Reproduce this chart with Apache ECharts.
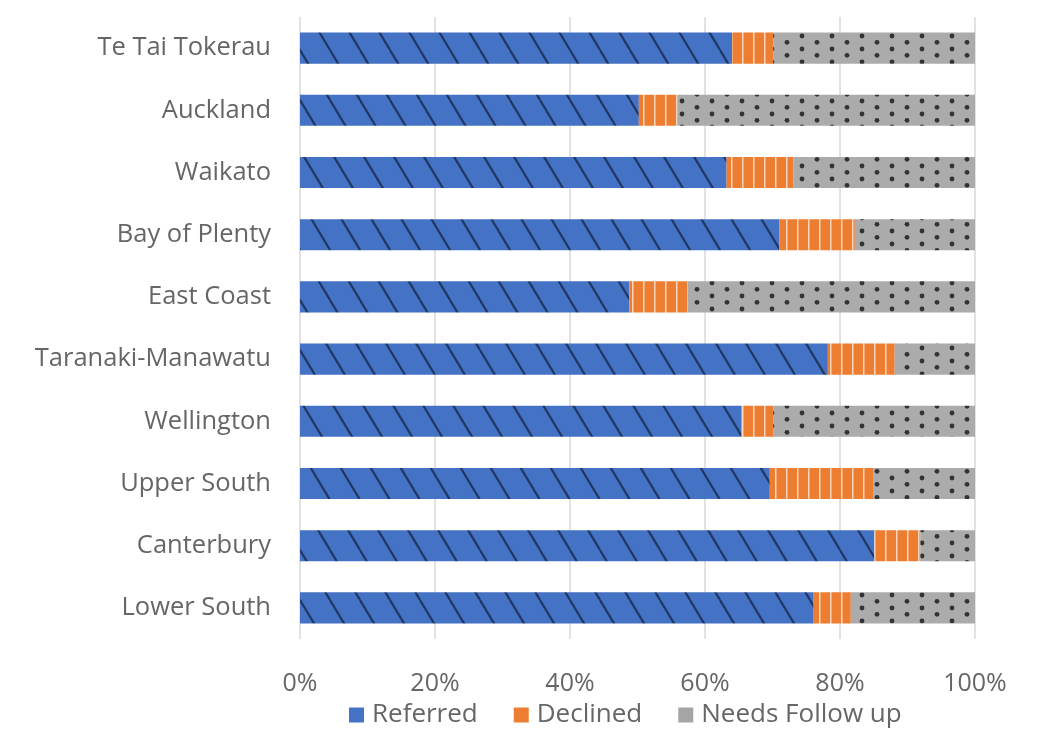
<!DOCTYPE html>
<html>
<head>
<meta charset="utf-8">
<script src="https://cdn.jsdelivr.net/npm/echarts@6/dist/echarts.min.js"></script>
<style>
  html, body { margin: 0; padding: 0; background: #fff; }
  #chart { width: 1037px; height: 729px; }
</style>
</head>
<body>
<div id="chart"></div>
<script>
// Regions, top to bottom
const regions = [
  'Te Tai Tokerau', 'Auckland', 'Waikato', 'Bay of Plenty', 'East Coast',
  'Taranaki-Manawatu', 'Wellington', 'Upper South', 'Canterbury', 'Lower South'
];
// Share of cases per outcome (%)
const referred      = [64.0, 50.2, 63.2, 71.0, 48.8, 78.2, 65.4, 69.6, 85.1, 76.1];
const declined      = [ 6.1,  5.7,  9.9, 11.2,  8.6,  9.9,  4.7, 15.3,  6.8,  5.5];
const needsFollowUp = [29.9, 44.1, 26.9, 17.8, 42.6, 11.9, 29.9, 15.1,  8.1, 18.4];
const seriesNames = ['Referred', 'Declined', 'Needs Follow up'];
const xTicks = [0, 20, 40, 60, 80, 100];

const FONT = '"Open Sans", sans-serif';
const TEXT = '#666666';

// Fill patterns drawn on small tiles
function tile(w, h, draw) {
  const c = document.createElement('canvas');
  c.width = w; c.height = h;
  draw(c.getContext('2d'), w, h);
  return { image: c, repeat: 'repeat' };
}
const bluePattern = tile(30, 50, (g, w, h) => {
  g.fillStyle = '#4472C4'; g.fillRect(0, 0, w, h);
  g.strokeStyle = '#1F3864'; g.lineWidth = 2.2;
  for (const x0 of [-w, 0, w]) {
    g.beginPath(); g.moveTo(x0, 0); g.lineTo(x0 + w, h); g.stroke();
  }
});
const orangePattern = tile(11, 10, (g, w, h) => {
  g.fillStyle = '#ED7D31'; g.fillRect(0, 0, w, h);
  g.fillStyle = '#FAD6BE'; g.fillRect(5, 0, 1.5, h);
});
const grayPattern = tile(30, 13.4, (g, w, h) => {
  g.fillStyle = '#ABABAB'; g.fillRect(0, 0, w, h);
  g.fillStyle = '#333333';
  for (const [x, y] of [[7, 3.3], [22, 10]]) {
    g.beginPath(); g.arc(x, y, 2.4, 0, Math.PI * 2); g.fill();
  }
});

const fills = [bluePattern, orangePattern, grayPattern];
const solids = ['#4472C4', '#ED7D31', '#A5A5A5'];
const values = [referred, declined, needsFollowUp];

const chart = echarts.init(document.getElementById('chart'), null, { renderer: 'canvas' });
chart.setOption({
  animation: false,
  backgroundColor: '#ffffff',
  grid: { left: 300, right: 62, top: 17, bottom: 90, containLabel: false },
  legend: {
    left: 349, top: 702, padding: 0,
    itemWidth: 15, itemHeight: 15, itemGap: 36,
    icon: 'rect',
    textStyle: { fontFamily: FONT, fontSize: 26, color: TEXT, padding: [0, 0, 0, 3] },
    data: seriesNames.map((n, i) => ({ name: n, itemStyle: { color: solids[i] } }))
  },
  xAxis: {
    type: 'value', min: 0, max: 100, interval: 20,
    axisLine: { show: false }, axisTick: { show: false },
    splitLine: { lineStyle: { color: '#D9D9D9', width: 1.5 } },
    axisLabel: {
      margin: 32, fontFamily: FONT, fontSize: 25, color: TEXT,
      formatter: v => xTicks.includes(v) ? v + '%' : ''
    }
  },
  yAxis: {
    type: 'category', data: regions, inverse: true,
    axisLine: { show: false }, axisTick: { show: false },
    axisLabel: { margin: 29, fontFamily: FONT, fontSize: 25.5, color: TEXT }
  },
  series: seriesNames.map((name, i) => ({
    name, type: 'bar', stack: 'total', barWidth: '50%',
    itemStyle: { color: fills[i] },
    data: values[i]
  }))
});
</script>
</body>
</html>
